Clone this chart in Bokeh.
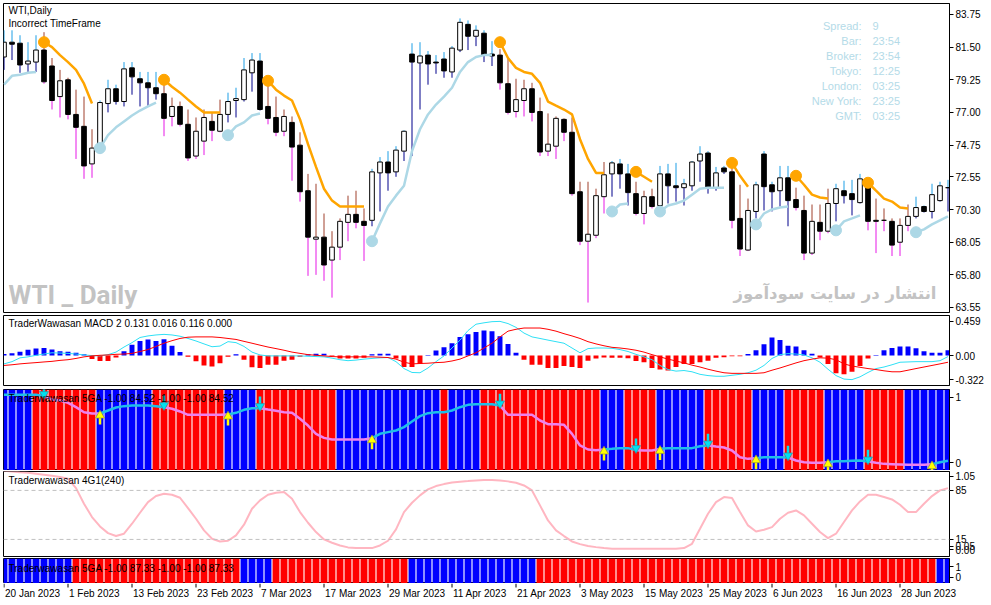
from bokeh.plotting import figure
from bokeh.models import Range1d, FixedTicker, Label, Span, PrintfTickFormatter
from bokeh.layouts import column
from bokeh.embed import file_html
from bokeh.resources import INLINE
from bokeh.core.properties import value

# ---------------- data ----------------
DATE_LABELS = ["20 Jan 2023", "1 Feb 2023", "13 Feb 2023", "23 Feb 2023", "7 Mar 2023",
               "17 Mar 2023", "29 Mar 2023", "11 Apr 2023", "21 Apr 2023", "3 May 2023",
               "15 May 2023", "25 May 2023", "6 Jun 2023", "16 Jun 2023", "28 Jun 2023"]
DATE_BARS = [0, 8, 16, 24, 32, 40, 48, 56, 64, 72, 80, 88, 96, 104, 112]

OPEN = [80.82, 81.84, 81.77, 80.34, 80.47, 81.30, 80.20, 78.09, 79.25, 76.86,
        76.04, 73.45, 74.27, 77.61, 78.63, 77.75, 80.07, 79.32, 79.04, 78.70,
        78.29, 76.72, 77.41, 76.18, 73.99, 75.02, 76.38, 75.70, 76.86, 77.82,
        77.88, 79.73, 80.54, 77.41, 76.65, 75.70, 76.31, 74.74, 71.60, 68.26,
        68.40, 66.82, 67.71, 69.42, 69.97, 69.49, 69.56, 72.83, 73.58, 72.90,
        74.33, 81.02, 80.41, 80.95, 80.47, 80.68, 79.79, 81.30, 83.07, 82.25,
        82.46, 81.02, 80.95, 78.98, 77.06, 77.82, 78.63, 77.06, 74.33, 74.67,
        76.52, 75.63, 71.53, 68.12, 68.53, 71.19, 72.76, 73.45, 72.76, 71.40,
        70.03, 71.19, 70.58, 72.76, 71.94, 71.81, 71.94, 73.65, 74.20, 71.81,
        73.17, 72.90, 69.69, 67.51, 70.17, 74.13, 72.01, 71.60, 72.49, 70.99,
        70.24, 67.30, 69.42, 68.81, 70.72, 71.60, 71.40, 70.78, 72.08, 69.56,
        69.56, 69.49, 68.05, 69.21, 69.83, 70.51, 70.17, 70.92, 71.81]
HIGH = [82.66, 82.66, 82.32, 81.84, 82.32, 82.53, 80.75, 79.93, 79.39, 78.57,
        78.09, 75.84, 77.82, 79.25, 78.91, 80.47, 80.47, 79.79, 79.79, 79.79,
        79.04, 78.02, 77.75, 77.20, 76.65, 77.20, 77.00, 77.88, 78.36, 78.70,
        80.75, 81.09, 81.09, 79.11, 78.09, 77.20, 76.72, 75.63, 72.76, 72.08,
        70.03, 68.81, 69.69, 71.26, 71.60, 70.38, 73.11, 73.92, 74.33, 74.67,
        75.77, 81.77, 81.84, 81.23, 80.95, 81.16, 81.57, 83.48, 83.34, 83.00,
        82.66, 81.91, 81.36, 80.68, 79.32, 79.25, 79.04, 78.02, 76.93, 76.72,
        76.59, 76.65, 72.22, 72.22, 71.74, 73.58, 73.65, 73.79, 73.45, 72.22,
        71.60, 71.74, 73.31, 73.45, 73.52, 72.42, 73.65, 74.67, 74.33, 73.24,
        73.31, 73.58, 72.01, 71.06, 72.22, 74.33, 72.22, 73.31, 73.31, 71.81,
        71.26, 70.65, 70.65, 71.74, 72.08, 72.29, 72.35, 72.76, 72.22, 71.06,
        70.38, 69.69, 69.69, 70.65, 71.19, 70.58, 72.08, 72.22, 72.35]
LOW = [79.93, 80.61, 79.73, 79.73, 79.79, 78.98, 77.20, 76.65, 76.52, 73.79,
       72.42, 72.49, 74.13, 77.00, 77.54, 77.41, 78.22, 77.41, 77.41, 77.88,
       75.36, 76.04, 76.04, 73.65, 73.79, 74.06, 75.02, 75.63, 76.31, 76.65,
       77.75, 78.43, 77.13, 76.18, 75.36, 75.36, 72.29, 70.85, 65.73, 65.80,
       65.39, 64.23, 66.82, 68.12, 69.01, 66.76, 69.15, 70.17, 71.60, 72.56,
       73.65, 73.99, 77.20, 78.91, 79.66, 79.39, 79.39, 81.16, 81.30, 81.57,
       80.47, 80.20, 78.57, 76.86, 76.65, 76.72, 76.38, 73.99, 73.99, 73.79,
       75.02, 71.26, 67.85, 63.89, 68.33, 70.03, 71.19, 71.74, 70.58, 69.90,
       69.28, 70.38, 70.38, 70.72, 70.85, 70.58, 71.60, 72.22, 71.40, 71.60,
       72.76, 69.01, 67.10, 67.44, 69.69, 70.24, 70.17, 70.51, 69.15, 70.24,
       66.82, 67.17, 68.19, 68.67, 69.49, 70.72, 69.90, 70.72, 68.87, 67.30,
       68.81, 67.10, 67.10, 68.81, 69.69, 70.10, 69.69, 70.85, 70.17]
CLOSE = [81.84, 81.70, 80.27, 80.54, 81.30, 79.11, 77.82, 79.18, 76.86, 75.97,
         73.31, 74.54, 77.68, 78.63, 77.75, 80.00, 79.45, 79.04, 78.70, 78.29,
         76.59, 77.41, 76.18, 73.86, 75.70, 76.65, 75.77, 76.86, 77.75, 77.95,
         79.93, 80.61, 77.20, 76.59, 75.63, 76.72, 74.61, 71.53, 68.40, 68.40,
         66.48, 67.71, 69.49, 69.97, 69.42, 69.21, 72.90, 73.58, 72.83, 74.40,
         75.70, 80.47, 80.89, 80.34, 80.41, 79.86, 81.43, 83.21, 82.25, 82.66,
         80.95, 80.89, 79.04, 77.00, 77.88, 78.63, 77.00, 74.27, 74.81, 76.59,
         75.63, 71.40, 68.12, 68.60, 71.26, 72.70, 73.52, 72.76, 71.47, 70.03,
         71.19, 70.51, 72.76, 71.94, 71.81, 72.08, 73.58, 74.13, 71.81, 72.83,
         72.90, 69.56, 67.58, 70.24, 72.01, 71.88, 71.53, 72.49, 70.92, 70.44,
         67.30, 69.49, 68.81, 70.72, 71.74, 71.26, 70.99, 72.42, 69.49, 69.49,
         69.56, 67.85, 69.21, 69.83, 70.44, 70.17, 71.33, 71.94, 71.81]

# trend-stop indicator: '+' = rising stop (below price), '-' = falling stop (above price)
TREND = ("+++++" "-------" "++++++++" "--------" "+++++" "-------------"
         "++++++++++++++++" "--------------" "+++" "---" "+++++++++" "---"
         "+++++" "-----" "++++" "------" "+++++")
STOP = [78.91, 79.52, 79.59, 79.73, 79.79, 81.84, 81.50, 80.95, 80.47, 79.93,
        78.98, 77.61, 74.54, 75.43, 75.97, 76.38, 76.79, 77.13, 77.41, 77.68,
        79.25, 78.77, 78.36, 77.88, 77.41, 77.00, 77.00, 77.00, 75.43, 76.04,
        76.31, 76.79, 76.93, 79.18, 78.57, 78.16, 77.82, 76.52, 74.81, 73.24,
        71.74, 70.92, 70.51, 70.51, 70.51, 70.51, 68.12, 69.35, 70.51, 71.26,
        71.94, 74.33, 75.84, 76.86, 77.54, 78.09, 78.70, 79.79, 80.47, 80.82,
        80.95, 80.95, 81.84, 80.75, 80.07, 79.79, 79.66, 79.04, 77.75, 77.47,
        77.20, 76.86, 75.15, 73.79, 72.83, 72.83, 70.17, 70.65, 70.72, 72.90,
        72.56, 72.22, 70.17, 70.58, 70.72, 70.92, 71.33, 71.74, 71.81, 71.81,
        71.81, 73.52, 72.63, 71.88, 69.28, 70.03, 70.31, 70.44, 70.51, 72.63,
        72.01, 71.33, 71.13, 71.06, 68.87, 69.49, 69.69, 69.90, 72.15, 71.60,
        71.06, 70.85, 70.44, 70.38, 68.74, 68.94, 69.28, 69.56, 69.83]

MACD_HIST = [0.021, 0.030, 0.051, 0.077, 0.094, 0.102, 0.081, 0.060, 0.051, 0.038,
             0.017, -0.047, -0.072, -0.072, -0.026, 0.060, 0.145, 0.196, 0.217, 0.196,
             0.221, 0.132, 0.047, -0.017, -0.077, -0.132, -0.145, -0.102, -0.017, 0.017,
             -0.055, -0.157, -0.166, -0.123, -0.123, -0.068, -0.055, -0.017, 0.017, 0.026,
             0.026, -0.009, -0.038, -0.038, -0.038, -0.030, 0.017, 0.026, 0.026, -0.038,
             -0.153, -0.153, -0.111, 0.009, 0.068, 0.111, 0.166, 0.251, 0.285, 0.315,
             0.336, 0.328, 0.260, 0.157, 0.038, -0.055, -0.123, -0.123, -0.166, -0.166,
             -0.140, -0.153, -0.166, -0.068, -0.038, -0.026, -0.030, -0.030, -0.034, -0.072,
             -0.089, -0.166, -0.187, -0.200, -0.153, -0.111, -0.111, -0.089, -0.068, -0.030,
             -0.021, -0.009, -0.009, 0.021, 0.072, 0.153, 0.243, 0.208, 0.132, 0.123,
             0.072, 0.026, -0.026, -0.111, -0.238, -0.251, -0.217, -0.140, -0.038, 0.009,
             0.072, 0.102, 0.123, 0.123, 0.098, 0.060, 0.038, 0.038, 0.072]
MACD_MAIN = [-0.111, -0.081, -0.030, -0.017, 0.004, 0.021, 0.038, 0.034, 0.030, 0.021,
             0.009, 0.000, -0.004, 0.013, 0.047, 0.115, 0.174, 0.243, 0.264, 0.277,
             0.285, 0.277, 0.260, 0.230, 0.196, 0.157, 0.119, 0.128, 0.187, 0.174,
             0.123, 0.047, 0.009, -0.004, -0.004, -0.004, -0.004, -0.004, -0.009, -0.013,
             -0.017, -0.034, -0.055, -0.068, -0.060, -0.047, -0.038, -0.030, -0.026, -0.081,
             -0.174, -0.226, -0.230, -0.166, -0.081, -0.004, 0.102, 0.208, 0.336, 0.421,
             0.440, 0.455, 0.459, 0.430, 0.379, 0.302, 0.251, 0.230, 0.208, 0.187,
             0.166, 0.102, 0.038, 0.094, 0.102, 0.102, 0.098, 0.081, 0.055, 0.017,
             -0.017, -0.055, -0.132, -0.187, -0.208, -0.200, -0.217, -0.251, -0.268, -0.277,
             -0.277, -0.264, -0.251, -0.230, -0.196, -0.132, -0.038, 0.013, 0.026, 0.021,
             0.009, -0.030, -0.089, -0.183, -0.268, -0.315, -0.322, -0.285, -0.226, -0.174,
             -0.153, -0.123, -0.089, -0.085, -0.081, -0.081, -0.081, -0.068, -0.013]
MACD_SIGNAL = [-0.132, -0.123, -0.111, -0.102, -0.094, -0.085, -0.077, -0.064, -0.055, -0.038,
               -0.017, -0.004, 0.004, 0.009, 0.017, 0.021, 0.030, 0.055, 0.081, 0.123,
               0.166, 0.200, 0.230, 0.247, 0.251, 0.251, 0.251, 0.243, 0.230, 0.217,
               0.191, 0.166, 0.140, 0.115, 0.094, 0.072, 0.047, 0.030, 0.013, 0.004,
               -0.004, -0.013, -0.017, -0.017, -0.017, -0.017, -0.017, -0.021, -0.026, -0.047,
               -0.089, -0.111, -0.106, -0.102, -0.094, -0.089, -0.072, -0.047, -0.004, 0.038,
               0.102, 0.166, 0.251, 0.328, 0.353, 0.370, 0.370, 0.370, 0.353, 0.328,
               0.294, 0.264, 0.230, 0.187, 0.157, 0.132, 0.111, 0.102, 0.089, 0.072,
               0.047, 0.013, -0.017, -0.047, -0.072, -0.098, -0.128, -0.153, -0.183, -0.208,
               -0.230, -0.238, -0.238, -0.238, -0.238, -0.230, -0.196, -0.166, -0.132, -0.098,
               -0.068, -0.047, -0.030, -0.034, -0.055, -0.111, -0.140, -0.157, -0.174, -0.187,
               -0.204, -0.217, -0.217, -0.196, -0.174, -0.153, -0.132, -0.111, -0.089]

# 5GA panel: column colour per bar (B = blue, R = red), signal line, arrows
GSA_STATE = ("BBBB" "RRRRRRRR" "BBBBBBB" "RRRRRRRRR" "BBBB" "RRRRRRRRRR"
             "BBBBBBBBBBBBB" "R" "BBBB" "RRRRRRRRRRRRRRR" "BBB" "RRRR" "BBBBBB"
             "RRRRRR" "BBBB" "RRRRR" "BBBBB" "RRRRR" "BBBBBB")
GSA_LINE = [1.041, 1.041, 1.041, 1.041, 1.041, 1.021, 0.969, 0.954, 0.918, 0.851,
            0.774, 0.754, 0.754, 0.800, 0.846, 0.867, 0.877, 0.877, 0.877, 0.867,
            0.851, 0.826, 0.785, 0.733, 0.733, 0.733, 0.733, 0.733, 0.738, 0.764,
            0.810, 0.836, 0.836, 0.815, 0.795, 0.774, 0.764, 0.672, 0.569, 0.441,
            0.379, 0.354, 0.354, 0.354, 0.354, 0.354, 0.374, 0.441, 0.467, 0.492,
            0.544, 0.631, 0.713, 0.759, 0.774, 0.774, 0.800, 0.851, 0.887, 0.897,
            0.897, 0.897, 0.877, 0.733, 0.733, 0.733, 0.733, 0.646, 0.590, 0.590,
            0.579, 0.441, 0.262, 0.200, 0.190, 0.200, 0.210, 0.221, 0.221, 0.190,
            0.185, 0.185, 0.210, 0.221, 0.221, 0.221, 0.221, 0.251, 0.262, 0.246,
            0.231, 0.185, 0.082, 0.056, 0.067, 0.082, 0.082, 0.082, 0.077, 0.031,
            0.005, -0.005, -0.005, 0.005, 0.021, 0.021, 0.026, 0.031, 0.015, -0.005,
            -0.021, -0.026, -0.031, -0.036, -0.036, -0.036, -0.026, 0.005, 0.026]
GSA_UP_ARROWS = [12, 28, 46, 75, 82, 94, 103, 116]
GSA_DN_ARROWS = [5, 20, 32, 62, 79, 88, 98, 108]

G1_LINE = [1.130, 1.120, 1.110, 1.102, 1.088, 1.074, 1.060, 1.040, 1.017, 0.883,
           0.660, 0.469, 0.336, 0.240, 0.198, 0.231, 0.374, 0.531, 0.683, 0.769,
           0.802, 0.788, 0.745, 0.598, 0.445, 0.279, 0.160, 0.121, 0.131, 0.207,
           0.360, 0.588, 0.707, 0.788, 0.817, 0.826, 0.731, 0.540, 0.388, 0.255,
           0.150, 0.102, 0.064, 0.036, 0.026, 0.026, 0.026, 0.064, 0.131, 0.293,
           0.540, 0.674, 0.779, 0.864, 0.912, 0.940, 0.964, 0.974, 0.983, 0.993,
           0.998, 0.998, 0.993, 0.979, 0.960, 0.921, 0.850, 0.636, 0.421, 0.279,
           0.198, 0.121, 0.083, 0.055, 0.040, 0.026, 0.017, 0.017, 0.017, 0.017,
           0.017, 0.017, 0.017, 0.017, 0.017, 0.026, 0.088, 0.302, 0.517, 0.683,
           0.755, 0.740, 0.540, 0.350, 0.264, 0.288, 0.326, 0.445, 0.531, 0.564,
           0.493, 0.374, 0.255, 0.169, 0.231, 0.398, 0.564, 0.693, 0.788, 0.788,
           0.755, 0.721, 0.645, 0.540, 0.540, 0.660, 0.769, 0.850, 0.883]
G1_LEVELS = [0.85, 0.15]

GSA2_STATE = ("BBBBBBBBB" "RRRRRRRRRRRRRRRRRRRRR" "BBBB" "RRRRRRRRRRRRRRRRR"
              "BBBBBBBBBBBBBBBB" "RRRRRRRRRR" "RRRRRRRRRR" "RRRRRRRRRR"
              "RRRRRRRRRR" "RRRRRRRRRR" "BB")

PRICE_TICKS = [63.55, 65.80, 68.05, 70.30, 72.55, 74.75, 77.00, 79.25, 81.50, 83.75]
MACD_TICKS = {-0.322: "-0.322", 0: "0.00", 0.459: "0.459"}
G1_TICKS = {0: "0.00", 0.05: "0.05", 0.15: "15", 0.85: "85", 1.05: "1.05"}
BIN_TICKS = {0: "0", 1: "1"}

INFO_LABELS = ["Spread:", "Bar:", "Broker:", "Tokyo:", "London:", "New York:", "GMT:"]
INFO_VALUES = ["9", "23:54", "23:54", "12:25", "03:25", "23:25", "03:25"]

N = len(OPEN)
for arr in (HIGH, LOW, CLOSE, TREND, STOP, MACD_HIST, MACD_MAIN, MACD_SIGNAL,
            GSA_STATE, GSA_LINE, G1_LINE, GSA2_STATE):
    assert len(arr) == N, len(arr)

# ---------------- layout ----------------
W = 991
LEFT = 3
RIGHT = 42
FRAME_W = W - LEFT - RIGHT          # 946 px
PPB = 8.0                           # px per bar
X0 = -0.0625
X1 = X0 + FRAME_W / PPB
xr = Range1d(X0, X1)
FONT = "Liberation Sans"
idx = list(range(N))
FH = {}


def panel(frame_h, y0, y1, top=1, bottom=1):
    p = figure(frame_width=FRAME_W, frame_height=frame_h, x_range=xr,
               y_range=Range1d(y0, y1),
               output_backend="svg", toolbar_location=None,
               x_axis_location=None, y_axis_location="right",
               min_border_left=LEFT, min_border_right=RIGHT,
               min_border_top=top, min_border_bottom=bottom)
    p.title.visible = False
    p.grid.visible = False
    p.outline_line_color = "black"
    p.outline_line_width = 1
    p.background_fill_color = "white"
    p.border_fill_color = "white"
    ax = p.yaxis[0]
    ax.axis_line_color = "black"
    ax.major_tick_in = 0
    ax.major_tick_out = 4
    ax.minor_tick_line_color = None
    ax.major_label_standoff = 2
    ax.major_label_text_font = FONT
    ax.major_label_text_font_size = "10px"
    ax.major_label_text_color = "black"
    FH[p.id] = frame_h
    return p


def label(p, dx, dy, text, size="10px", color="black", align="left",
          font=FONT, style="normal"):
    """dx, dy: pixel offsets from the frame's top-left corner."""
    y0, y1 = p.y_range.start, p.y_range.end
    p.add_layout(Label(x=X0 + dx / PPB, y=y1 - dy * (y1 - y0) / FH[p.id],
                       text=text, text_font=font, text_font_size=size,
                       text_color=color, text_align=align,
                       text_baseline="middle", text_font_style=style))


# ---- main price panel (frame y 3..312) ----
pm = panel(309, 63.205, 84.508, top=3, bottom=2)
pm.yaxis.ticker = FixedTicker(ticks=PRICE_TICKS)
pm.yaxis.formatter = PrintfTickFormatter(format="%.2f")

trend = [1 if ch == "+" else -1 for ch in TREND]
body_top = [max(o, c) for o, c in zip(OPEN, CLOSE)]
body_bot = [min(o, c) for o, c in zip(OPEN, CLOSE)]
upper_col = ["#1e9fe6" if t > 0 else "#a0402d" for t in trend]
lower_col = ["#00008b" if t > 0 else "#e619e6" for t in trend]
fill = ["white" if c >= o else "black" for o, c in zip(OPEN, CLOSE)]

# watermark texts first (behind)
label(pm, 5, 291, "WTI _ Daily", size="26px", color="#c3c3c3",
      font="Roboto", style="bold")
label(pm, 933, 290, "انتشار در سایت سودآموز", size="16.5px", color="#c3c3c3",
      align="right", font="DejaVu Sans", style="bold")

pm.segment(idx, HIGH, idx, body_top, color=upper_col, line_width=1)
pm.segment(idx, body_bot, idx, LOW, color=lower_col, line_width=1)
pm.vbar(x=idx, width=0.58, top=body_top, bottom=body_bot,
        fill_color=fill, line_color="black", line_width=1)

runs = []
s = 0
for i in range(1, N + 1):
    if i == N or trend[i] != trend[s]:
        runs.append((s, i - 1, trend[s]))
        s = i
for a, b, t in runs:
    col = "#ffa500" if t < 0 else "#add8e6"
    pm.line(idx[a:b + 1], STOP[a:b + 1], line_color=col, line_width=2.5)
    if a > 0:
        pm.scatter([a], [STOP[a]], size=11, fill_color=col, line_color=col)

label(pm, 5, 7, "WTI,Daily")
label(pm, 5, 20, "Incorrect TimeFrame")
for i, (lt, vt) in enumerate(zip(INFO_LABELS, INFO_VALUES)):
    label(pm, 858, 22 + 15 * i, lt, size="11px", color="#b4dbe8", align="right")
    label(pm, 869, 22 + 15 * i, vt, size="11px", color="#b4dbe8", align="left")

# ---- MACD panel (frame y 315..385) ----
pmacd = panel(70, -0.401, 0.538, top=1, bottom=2)
pmacd.yaxis.ticker = FixedTicker(ticks=list(MACD_TICKS.keys()))
pmacd.yaxis.major_label_overrides = MACD_TICKS
hist_col = ["#0000ff" if v >= 0 else "#ff0000" for v in MACD_HIST]
pmacd.vbar(x=idx, width=0.62, top=MACD_HIST, bottom=0,
           fill_color=hist_col, line_color=None)
pmacd.line(idx, MACD_MAIN, line_color="#2ee0f5", line_width=1)
pmacd.line(idx, MACD_SIGNAL, line_color="#ff0000", line_width=1)
label(pmacd, 5, 8, "TraderWawasan MACD 2 0.131 0.016 0.116 0.000")

# ---- 5GA panel (frame y 389..470) ----
p3 = panel(81, -0.123, 1.123, top=2, bottom=0)
p3.yaxis.ticker = FixedTicker(ticks=list(BIN_TICKS.keys()))
p3.yaxis.major_label_overrides = BIN_TICKS
col3 = ["#0000ff" if ch == "B" else "#ff0000" for ch in GSA_STATE]
p3.vbar(x=idx, width=0.86, top=p3.y_range.end, bottom=p3.y_range.start,
        fill_color=col3, line_color=None)
label(p3, 5, 9, "Traderwawasan 5GA -1.00 84.52 -1.00 -1.00 84.52")
state = []
cur = 1
ups, dns = set(GSA_UP_ARROWS), set(GSA_DN_ARROWS)
for i in range(N):
    if i in ups:
        cur = 1
    if i in dns:
        cur = -1
    state.append(cur)
s = 0
for i in range(1, N + 1):
    if i == N or state[i] != state[s]:
        e = min(i, N - 1)
        col = "#1fbfe8" if state[s] > 0 else "#ee82ee"
        p3.line(idx[s:e + 1], GSA_LINE[s:e + 1], line_color=col, line_width=2.5)
        s = i
u_y = [GSA_LINE[k] for k in GSA_UP_ARROWS]
d_y = [GSA_LINE[k] for k in GSA_DN_ARROWS]
p3.segment(GSA_UP_ARROWS, [v - 0.05 for v in u_y], GSA_UP_ARROWS,
           [v - 0.17 for v in u_y], line_color="#ffff00", line_width=2.5)
p3.scatter(GSA_UP_ARROWS, [v - 0.03 for v in u_y], marker="triangle", size=9,
           fill_color="#ffff00", line_color="#9a9a30", line_width=0.7)
p3.segment(GSA_DN_ARROWS, [v + 0.06 for v in d_y], GSA_DN_ARROWS,
           [v + 0.18 for v in d_y], line_color="#00e0f0", line_width=2.5)
p3.scatter(GSA_DN_ARROWS, [v + 0.03 for v in d_y], marker="inverted_triangle",
           size=9, fill_color="#00e0f0", line_color="#3a8a9a", line_width=0.7)

# ---- 4G1 panel (frame y 471..556) ----
p4 = panel(85, -0.094, 1.120, top=1, bottom=1)
p4.yaxis.ticker = FixedTicker(ticks=list(G1_TICKS.keys()))
p4.yaxis.major_label_overrides = G1_TICKS
for lv in G1_LEVELS:
    p4.add_layout(Span(location=lv, dimension="width", line_color="#c0c0c0",
                       line_dash="4 3", line_width=1))
p4.line(idx, G1_LINE, line_color="#ffb6c1", line_width=2)
label(p4, 5, 9, "Traderwawasan 4G1(240)")

# ---- 5GA (second) panel (frame y 558..583) ----
p5 = panel(25, -0.55, 1.73, top=1, bottom=0)
p5.yaxis.ticker = FixedTicker(ticks=list(BIN_TICKS.keys()))
p5.yaxis.major_label_overrides = BIN_TICKS
col5 = ["#0000ff" if ch == "B" else "#ff0000" for ch in GSA2_STATE]
p5.vbar(x=idx, width=0.86, top=p5.y_range.end, bottom=p5.y_range.start,
        fill_color=col5, line_color=None)
label(p5, 5, 10, "Traderwawasan 5GA -1.00 87.33 -1.00 -1.00 87.33")

# ---- date axis strip (y 583..605) ----
DW = W - LEFT
pd_ = figure(frame_width=DW, frame_height=22,
             x_range=Range1d(X0, X0 + DW / PPB),
             y_range=Range1d(0, 22), output_backend="svg", toolbar_location=None,
             x_axis_location=None, y_axis_location=None,
             min_border_left=LEFT, min_border_right=0, min_border_top=0,
             min_border_bottom=0)
pd_.title.visible = False
pd_.grid.visible = False
pd_.outline_line_color = None
pd_.segment(DATE_BARS, [22] * len(DATE_BARS), DATE_BARS, [18] * len(DATE_BARS),
            line_color="black", line_width=1)
pd_.text(DATE_BARS, [12] * len(DATE_BARS), text=DATE_LABELS, text_align="left",
         text_baseline="middle", x_offset=1, text_font=value(FONT),
         text_font_size="10px", text_color="black")

layout = column(pm, pmacd, p3, p4, p5, pd_, spacing=0)
open("out.html", "w").write(file_html(layout, INLINE))
